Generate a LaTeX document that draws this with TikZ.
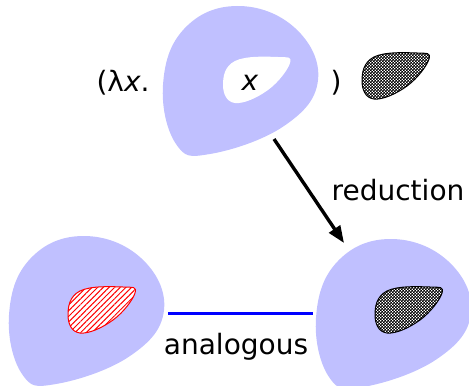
\documentclass[tikz,border=0pt]{standalone}
\usepackage{fontspec}
\setmainfont{DejaVu Sans}
\usetikzlibrary{arrows.meta}
\usetikzlibrary{patterns}
\usetikzlibrary{patterns.meta}
\usepackage{xcolor}

\definecolor{blobblue}{RGB}{192,192,255}

\pgfdeclarepatternformonly{finechecks}{\pgfqpoint{0pt}{0pt}}{\pgfqpoint{1.6pt}{1.6pt}}{\pgfqpoint{1.6pt}{1.6pt}}{%
  \pgfpathrectangle{\pgfqpoint{0pt}{0pt}}{\pgfqpoint{0.95pt}{0.95pt}}%
  \pgfpathrectangle{\pgfqpoint{0.8pt}{0.8pt}}{\pgfqpoint{0.95pt}{0.95pt}}%
  \pgfusepath{fill}}

\newcommand{\outerblob}{plot[smooth cycle, tension=0.7] coordinates {(75,1) (133,23) (156,75) (122,121) (48,149) (14,139) (1,80) (22,24)}}
\newcommand{\innerblob}{plot[smooth cycle, tension=0.7] coordinates {(0,28) (12,4) (55,0) (67,6) (45,33) (12,46)}}

\tikzset{
  lbl/.style={font=\fontsize{14}{17}\selectfont, inner sep=0pt},
  checks/.style={preaction={fill=white}, pattern=finechecks, draw=black, line width=0.5pt}
}

\begin{document}
\begin{tikzpicture}[x=0.5pt, y=-0.5pt]
\clip (0,0) rectangle (469,385);

% top term
\begin{scope}[shift={(162,5)}]
\fill[blobblue] \outerblob;
\begin{scope}[shift={(61,52)}]
\fill[white] \innerblob;
\end{scope}
\end{scope}
\node[lbl] (xvar) at (250,83) {\textit{x}};
\node[lbl] (lam) at (123,83) {(λ\textit{x}.};
\node[lbl] (rpar) at (336,83) {)};

\begin{scope}[shift={(362,53)}]
\draw[checks] \innerblob;
\end{scope}

% bottom left
\begin{scope}[shift={(8,235)}]
\fill[blobblue] \outerblob;
\begin{scope}[shift={(60,52)}]
\draw[red, line width=0.5pt, preaction={fill=white}, pattern={Lines[angle=45, distance=2pt, line width=0.5pt]}, pattern color=red] \innerblob;
\end{scope}
\end{scope}

% bottom right
\begin{scope}[shift={(315,238)}]
\fill[blobblue] \outerblob;
\begin{scope}[shift={(60,49)}]
\draw[checks] \innerblob;
\end{scope}
\end{scope}

\coordinate (rfrom) at (274,139);
\coordinate (rto) at (344,243);
\draw[line width=1.7pt, -{Triangle[length=8.5pt, width=6.5pt]}] (rfrom) -- (rto);
\node[lbl] (red) at (398,190) {reduction};

\coordinate (aleft) at (168,313);
\coordinate (aright) at (313,313);
\draw[blue, line width=1.5pt] (aleft) -- (aright);
\node[lbl] (ana) at (236,347) {analogous};

\end{tikzpicture}
\end{document}
